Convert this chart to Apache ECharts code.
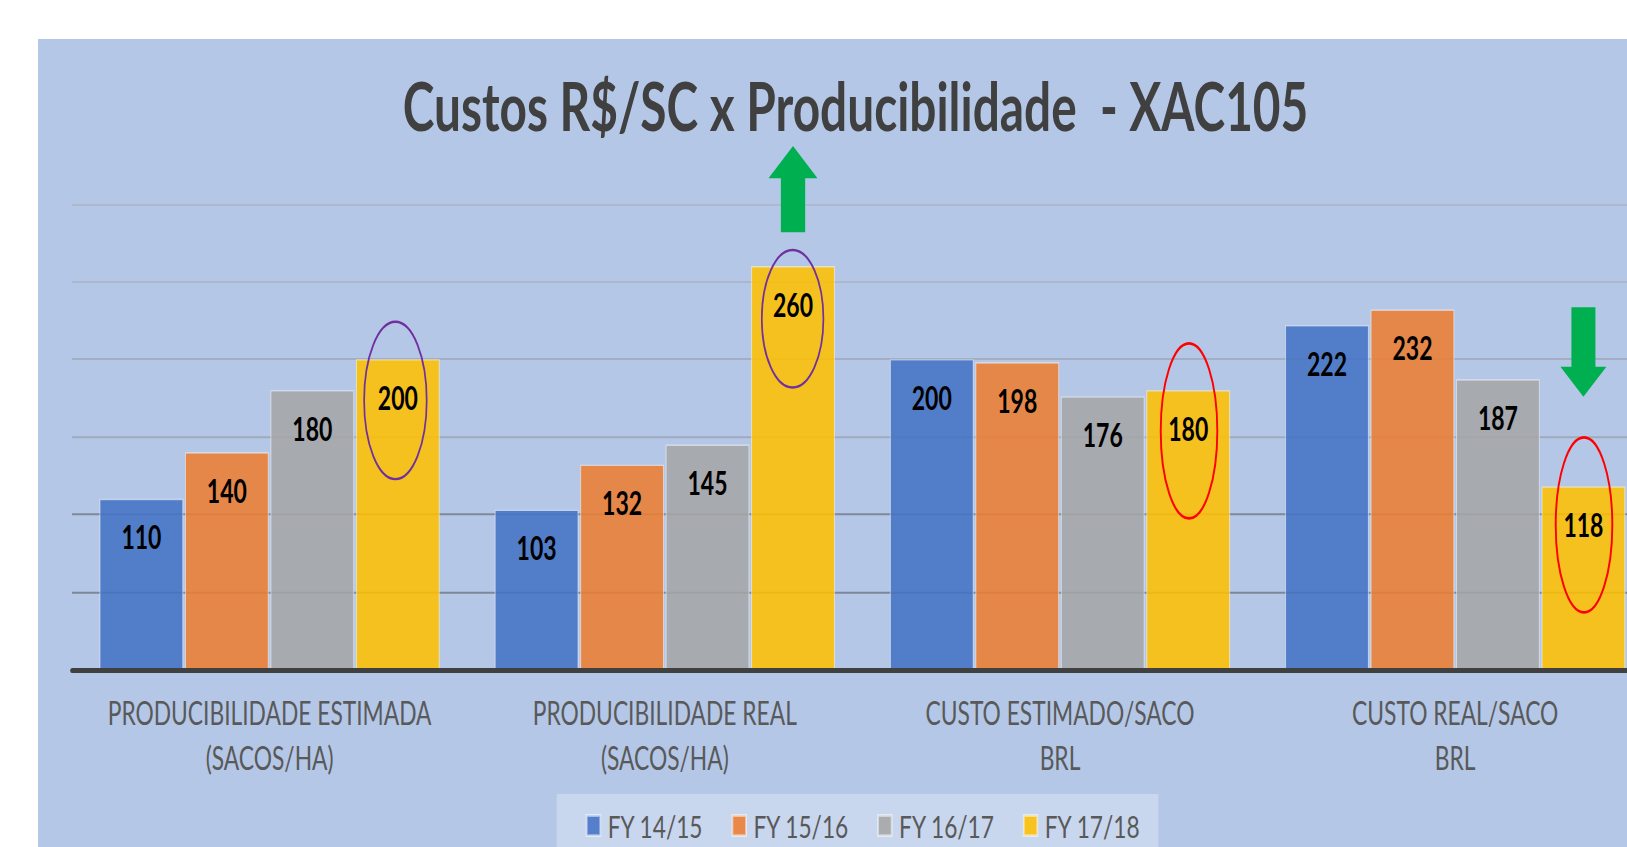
<!DOCTYPE html>
<html><head><meta charset="utf-8">
<script src="https://cdn.jsdelivr.net/npm/echarts@6/dist/echarts.min.js"></script>
<style>
html,body{margin:0;padding:0;background:#fff;width:1627px;height:847px;overflow:hidden}
#panel{position:absolute;left:38px;top:39px;width:1589px;height:808px;background:#b4c7e7;overflow:hidden}
#chart{position:absolute;left:0;top:0;width:1660px;height:578px;transform:scaleY(1.4);transform-origin:0 0}
</style></head>
<body><div id="panel"><div id="chart"></div></div>
<script>
// ---- data ----
const categories = [
  'PRODUCIBILIDADE ESTIMADA\n(SACOS/HA)',
  'PRODUCIBILIDADE REAL\n(SACOS/HA)',
  'CUSTO ESTIMADO/SACO\nBRL',
  'CUSTO REAL/SACO\nBRL'
];
const seriesNames = ['FY 14/15', 'FY 15/16', 'FY 16/17', 'FY 17/18'];
const fy1415 = [110, 103, 200, 222];
const fy1516 = [140, 132, 198, 232];
const fy1617 = [180, 145, 176, 187];
const fy1718 = [200, 260, 180, 118];
const yTicks = [0, 50, 100, 150, 200, 250, 300];
const chartTitle = 'Custos R$/SC x Producibilidade  - XAC105';

// ---- styling ----
const FONT = 'Lato, "Open Sans", sans-serif';
const colors = ['#4472C4', '#ED7D31', '#A5A5A5', '#FFC000'];
const values = [fy1415, fy1516, fy1617, fy1718];

const chart = echarts.init(document.getElementById('chart'), null, {renderer: 'svg', width: 1660, height: 578});

const option = {
  animation: false,
  title: {
    text: chartTitle,
    left: 812.5, top: 42.1, padding: 5,
    textAlign: 'center', textVerticalAlign: 'middle',
    textStyle: {fontFamily: FONT, fontWeight: 'bold', fontSize: 47.8, color: '#404040'}
  },
  legend: {
    data: seriesNames,
    left: 518.7, top: 539.3,
    padding: [11, 18, 14, 29],
    backgroundColor: '#c8d6ee',
    icon: 'rect', itemWidth: 13.6, itemHeight: 14.3, itemGap: 28,
    textStyle: {color: '#595959', fontSize: 22.7, fontFamily: FONT, padding: [0, 0, 0, 2.4]}
  },
  grid: {left: 34, top: 117.86, width: 1580.8, height: 332.5},
  xAxis: {
    type: 'category', data: categories, z: 5,
    axisLine: {lineStyle: {color: '#404040', width: 3.6}},
    axisTick: {show: false},
    axisLabel: {interval: 0, color: '#595959', fontFamily: FONT, fontSize: 22.8, lineHeight: 32.6, margin: 14.6}
  },
  yAxis: {
    type: 'value', min: yTicks[0], max: yTicks[yTicks.length - 1], interval: yTicks[1] - yTicks[0],
    axisLabel: {show: false}, axisLine: {show: false}, axisTick: {show: false},
    splitLine: {lineStyle: {width: 1.4, color: ['#7d8799', '#7d8799', '#7f899b', '#9faabe', '#a3aec2', '#acb7cb', '#aeb9cd']}}
  },
  series: seriesNames.map((n, i) => ({
    type: 'bar', name: n, data: values[i],
    barWidth: 83.8, barGap: '2%',
    itemStyle: {color: colors[i], opacity: 0.87, borderColor: 'rgba(255,255,255,0.55)', borderWidth: 1},
    label: {show: true, position: 'insideTop', distance: 15.6, color: '#000', opacity: 1,
            fontFamily: FONT, fontWeight: 'bold', fontSize: 23}
  }))
};
chart.setOption(option);

// ---- annotations (ellipses and arrows) anchored on the FY 17/18 bars ----
const ellipseMarks = [
  {idx: 0, color: '#7030A0', dx: -2.4, dy: 29.5, rx: 31.3, ry: 56.2, w: 1.7},
  {idx: 1, color: '#7030A0', dx: -0.4, dy: 37.6, rx: 30.8, ry: 49.1, w: 1.7},
  {idx: 2, color: '#FF0000', dx: 0.8, dy: 29.1, rx: 28.3, ry: 62.5, w: 1.9},
  {idx: 3, color: '#FF0000', dx: 0.6, dy: 27.5, rx: 28.3, ry: 62.5, w: 1.9}
];
const arrowMarks = [
  {idx: 1, dir: 'up', tip: 76.4, headBase: 99.5, end: 138.1, headHalf: 24.5, shaftHalf: 12.15},
  {idx: 3, dir: 'down', tip: 255.5, headBase: 234.1, end: 191.6, headHalf: 23, shaftHalf: 12}
];

function barGeom(seriesIndex, i) {
  try {
    const l = chart.getModel().getSeriesByIndex(seriesIndex).getData().getItemLayout(i);
    return {cx: l.x + l.width / 2, top: Math.min(l.y, l.y + l.height)};
  } catch (e) {
    const p = chart.convertToPixel({seriesIndex: seriesIndex}, [i, values[seriesIndex][i]]);
    return {cx: p[0] + 128.2, top: p[1]};
  }
}

const graphics = [];
ellipseMarks.forEach(m => {
  const g = barGeom(3, m.idx);
  graphics.push({
    type: 'ellipse', z: 100,
    shape: {cx: g.cx + m.dx, cy: g.top + m.dy, rx: m.rx, ry: m.ry},
    style: {fill: 'none', stroke: m.color, lineWidth: m.w}
  });
});
arrowMarks.forEach(a => {
  const g = barGeom(3, a.idx);
  const cx = g.cx;
  const pts = [
    [cx, a.tip],
    [cx + a.headHalf, a.headBase],
    [cx + a.shaftHalf, a.headBase],
    [cx + a.shaftHalf, a.end],
    [cx - a.shaftHalf, a.end],
    [cx - a.shaftHalf, a.headBase],
    [cx - a.headHalf, a.headBase]
  ];
  graphics.push({type: 'polygon', z: 100, shape: {points: pts}, style: {fill: '#00B050'}});
});
chart.setOption({graphic: graphics});
</script>
</body></html>
